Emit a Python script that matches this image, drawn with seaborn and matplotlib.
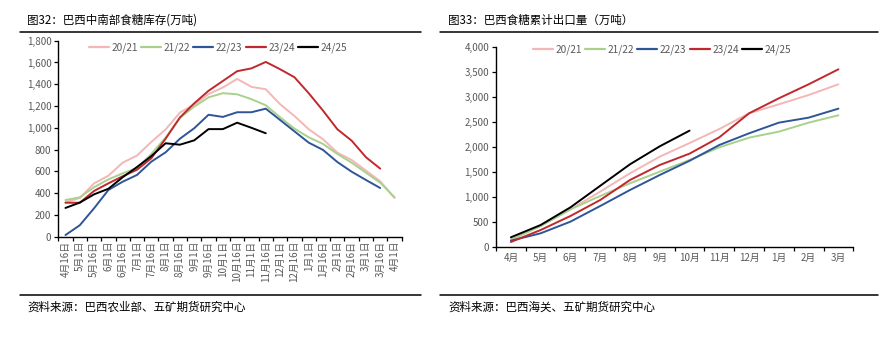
import numpy as np
import pandas as pd
import matplotlib
matplotlib.use("Agg")
import matplotlib.pyplot as plt
import seaborn as sns
from matplotlib.lines import Line2D
from matplotlib.ticker import FuncFormatter

sns.set_theme(style="white")
plt.rcParams["font.family"] = ["Noto Sans CJK SC", "DejaVu Sans"]

seasons = ["20/21", "21/22", "22/23", "23/24", "24/25"]
colors = ["#F4B6B6", "#A9D18E", "#2F5597", "#C0282D", "#000000"]

# ---- Chart 32: stock (万吨) ----
stock_dates = ["4月16日", "5月1日", "5月16日", "6月1日", "6月16日", "7月1日", "7月16日",
               "8月1日", "8月16日", "9月1日", "9月16日", "10月1日", "10月16日", "11月1日",
               "11月16日", "12月1日", "12月16日", "1月1日", "1月16日", "2月1日", "2月16日",
               "3月1日", "3月16日", "4月1日"]
stock_2021 = [316, 355, 490, 560, 680, 745, 870, 985, 1140, 1215, 1310, 1370, 1449, 1376,
              1354, 1217, 1109, 987, 895, 772, 705, 607, 509, 356]
stock_2122 = [337, 361, 455, 526, 582, 630, 760, 910, 1090, 1195, 1280, 1318, 1308, 1263,
              1207, 1097, 993, 913, 852, 760, 680, 588, 496, 362]
stock_2223 = [15, 105, 261, 429, 505, 567, 689, 775, 900, 996, 1120, 1100, 1143, 1143,
              1176, 1072, 968, 864, 797, 686, 597, 521, 447, None]
stock_2324 = [312, 312, 420, 490, 555, 615, 720, 900, 1095, 1225, 1340, 1430, 1520, 1546,
              1605, 1538, 1465, 1318, 1158, 987, 882, 730, 625, None]
stock_2425 = [264, 313, 389, 440, 546, 640, 740, 858, 845, 885, 988, 988, 1047, 1000, 950]

# ---- Chart 33: cumulative exports (万吨) ----
export_months = ["4月", "5月", "6月", "7月", "8月", "9月", "10月", "11月", "12月", "1月", "2月", "3月"]
export_2021 = [160, 426, 759, 1113, 1480, 1813, 2085, 2366, 2680, 2860, 3046, 3260]
export_2122 = [146, 426, 759, 1026, 1280, 1513, 1746, 2000, 2193, 2313, 2493, 2640]
export_2223 = [133, 280, 513, 826, 1146, 1446, 1730, 2046, 2280, 2493, 2593, 2773]
export_2324 = [106, 346, 626, 946, 1346, 1646, 1873, 2200, 2680, 2980, 3260, 3560]
export_2425 = [200, 446, 799, 1230, 1660, 2020, 2333]


def to_long(labels, series_list):
    rows = []
    for name, vals in zip(seasons, series_list):
        for i, v in enumerate(vals[:len(labels)]):
            if v is not None:
                rows.append({"x": i, "value": v, "season": name})
    return pd.DataFrame(rows)


W, H = 884, 340
fig = plt.figure(figsize=(W / 100, H / 100), dpi=100)

GRAY = "#595959"


def fx(px):
    return px / W


def fy(py):
    return 1 - py / H


def style_axes(ax, labels, ymax, ystep, rot):
    n = len(labels)
    ax.set_xlim(-0.5, n - 0.5)
    ax.set_ylim(0, ymax)
    ax.set_yticks(np.arange(0, ymax + 1, ystep))
    ax.yaxis.set_major_formatter(FuncFormatter(lambda v, p: f"{int(v):,}"))
    ax.set_xticks(np.arange(-0.5, n), labels=[""] * (n + 1))
    ax.set_xticks(np.arange(n), minor=True)
    ax.set_xticklabels(labels, minor=True, rotation=rot, fontsize=7, color=GRAY)
    ax.tick_params(axis="x", which="major", direction="out", length=3, width=0.9, color="black", bottom=True)
    ax.tick_params(axis="x", which="minor", length=0, pad=3 if rot else 4, bottom=True)
    ax.tick_params(axis="y", direction="out", length=3, width=0.9, color="black", left=True,
                   labelsize=7, labelcolor=GRAY, pad=2)
    for s in ["top", "right"]:
        ax.spines[s].set_visible(False)
    for s in ["left", "bottom"]:
        ax.spines[s].set_color("black")
        ax.spines[s].set_linewidth(1.0)
    ax.set_xlabel("")
    ax.set_ylabel("")
    ax.grid(False)


def add_legend(ax, x_center, y):
    handles = [Line2D([0], [0], color=c, lw=1.6) for c in colors]
    ax.legend(handles, seasons, loc="center", bbox_to_anchor=(x_center, y), ncol=5, frameon=False,
              fontsize=7.3, labelcolor=GRAY, handlelength=2.0, handletextpad=0.25, columnspacing=0.3,
              borderaxespad=0)


# left axes
ax1 = fig.add_axes([fx(58.3), fy(236.7), fx(401.7 - 58.3), (236.7 - 40.7) / H])
d1 = to_long(stock_dates, [stock_2021, stock_2122, stock_2223, stock_2324, stock_2425])
sns.lineplot(data=d1, x="x", y="value", hue="season", hue_order=seasons, palette=colors,
             estimator=None, sort=False, linewidth=1.4, ax=ax1, legend=False)
style_axes(ax1, stock_dates, 1800, 200, 90)
add_legend(ax1, (218 - 58.3) / 343.4, (236.7 - 48) / 196)

# right axes
ax2 = fig.add_axes([fx(496), fy(247.3), fx(853.3 - 496), 200 / H])
d2 = to_long(export_months, [export_2021, export_2122, export_2223, export_2324, export_2425])
sns.lineplot(data=d2, x="x", y="value", hue="season", hue_order=seasons, palette=colors,
             estimator=None, sort=False, linewidth=1.4, ax=ax2, legend=False)
style_axes(ax2, export_months, 4000, 500, 0)
add_legend(ax2, (662 - 496) / 357.3, (247.3 - 50) / 200)

# titles, rules and sources
fig.text(fx(27), fy(20), "图32：巴西中南部食糖库存(万吨)", fontsize=8.3, va="center", ha="left", color="black")
fig.text(fx(448), fy(20), "图33：巴西食糖累计出口量（万吨）", fontsize=8.3, va="center", ha="left", color="black")
fig.text(fx(27), fy(307), "资料来源：巴西农业部、五矿期货研究中心", fontsize=8.3, va="center", ha="left", color="black")
fig.text(fx(448), fy(307), "资料来源：巴西海关、五矿期货研究中心", fontsize=8.3, va="center", ha="left", color="black")

for (x0, x1) in [(20, 421), (440, 878)]:
    for yy in [32, 295]:
        fig.add_artist(Line2D([fx(x0), fx(x1)], [fy(yy), fy(yy)], color="black", lw=1.1))

fig.savefig("out.png", dpi=100)
